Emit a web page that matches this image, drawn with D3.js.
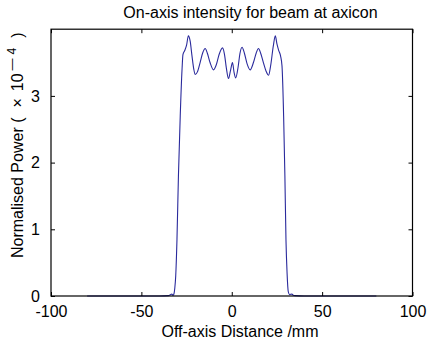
<!DOCTYPE html>
<html>
<head>
<meta charset="utf-8">
<script src="https://cdn.jsdelivr.net/npm/d3@7"></script>
<style>
  html, body { margin: 0; padding: 0; background: #fff; }
  svg { display: block; font-family: "Liberation Sans", Arial, Helvetica, sans-serif; }
</style>
</head>
<body>
<svg id="chart" width="428" height="345"></svg>
<script>
// Off-axis distance (mm)
const distance = [-80, -60, -40, -35, -34, -33.2, -32.5, -32, -31.5, -31, -30.3, -29.5, -28.5, -27.5, -27, -26, -25, -24, -23, -22, -21, -20.2, -19, -17.5, -16, -14.7, -13.5, -12, -10.1, -8.5, -7, -5.1, -4, -3, -1.8, -0.7, 0.4, 1.3, 2.2, 3.5, 4.5, 5.7, 7, 8.5, 10.2, 12, 13.5, 14.8, 16, 17.5, 19, 20.4, 21.5, 23, 24.1, 25, 26, 27, 27.8, 28.7, 29.4, 30.0, 30.6, 31.3, 32, 33.3, 34, 35, 40, 60, 80];
// Normalised power (x 10^-4)
const power = [0, 0, 0, 0.005, 0.02, 0.03, 0.01, 0.03, 0.12, 0.3, 0.85, 1.8, 2.7, 3.4, 3.62, 3.68, 3.76, 3.90, 3.82, 3.6, 3.40, 3.32, 3.36, 3.5, 3.65, 3.71, 3.64, 3.5, 3.39, 3.47, 3.62, 3.72, 3.62, 3.42, 3.26, 3.38, 3.50, 3.35, 3.27, 3.43, 3.63, 3.73, 3.64, 3.48, 3.39, 3.5, 3.64, 3.71, 3.64, 3.5, 3.37, 3.31, 3.45, 3.75, 3.90, 3.78, 3.68, 3.6, 3.45, 2.7, 1.8, 0.84, 0.35, 0.06, 0.02, 0.03, 0.01, 0.005, 0, 0, 0];

const xTicks = [-100, -50, 0, 50, 100];
const yTicks = [0, 1, 2, 3];

const titleText = "On-axis intensity for beam at axicon";
const xLabelText = "Off-axis Distance /mm";

const svg = d3.select("#chart");
const mLeft = 51, mRight = 412.5, mTop = 29.2, mBottom = 296;

const x = d3.scaleLinear().domain([-100, 100]).range([mLeft, mRight]);
const y = d3.scaleLinear().domain([0, 4]).range([mBottom, mTop]);

const data = distance.map((d, i) => ({x: d, y: power[i]}));

// data line
svg.append("path")
  .datum(data)
  .attr("fill", "none")
  .attr("stroke", "#2a2a9c")
  .attr("stroke-width", 1.1)
  .attr("d", d3.line().x(d => x(d.x)).y(d => y(d.y)).curve(d3.curveMonotoneX));

const tickFont = 16;
function styleAxis(g, showLabels) {
  g.select(".domain").remove();
  g.selectAll(".tick line").attr("stroke", "#000").attr("stroke-width", 1);
  g.selectAll(".tick text")
    .attr("fill", "#000")
    .style("font-size", tickFont + "px")
    .style("font-family", "'Liberation Sans', Arial, sans-serif");
  if (!showLabels) g.selectAll(".tick text").remove();
}

svg.append("g").attr("transform", `translate(0,${mBottom})`)
  .call(d3.axisBottom(x).tickValues(xTicks).tickFormat(d3.format("d")).tickSize(-4).tickPadding(10))
  .call(g => styleAxis(g, true));
svg.append("g").attr("transform", `translate(0,${mTop})`)
  .call(d3.axisTop(x).tickValues(xTicks).tickSize(-4))
  .call(g => styleAxis(g, false));
svg.append("g").attr("transform", `translate(${mLeft},0)`)
  .call(d3.axisLeft(y).tickValues(yTicks).tickFormat(d3.format("d")).tickSize(-4).tickPadding(11))
  .call(g => styleAxis(g, true));
svg.append("g").attr("transform", `translate(${mRight},0)`)
  .call(d3.axisRight(y).tickValues(yTicks).tickSize(-4))
  .call(g => styleAxis(g, false));

// tick labels: use hyphen minus like reference
svg.selectAll(".tick text").text(function() { return this.textContent.replace("\u2212", "-"); });

// box
svg.append("rect")
  .attr("x", mLeft).attr("y", mTop)
  .attr("width", mRight - mLeft).attr("height", mBottom - mTop)
  .attr("fill", "none").attr("stroke", "#000").attr("stroke-width", 1.2);

// title
svg.append("text")
  .attr("x", 250.5).attr("y", 18)
  .attr("text-anchor", "middle")
  .style("font-size", "16px")
  .text(titleText);

// x label
svg.append("text")
  .attr("x", 240).attr("y", 337)
  .attr("text-anchor", "middle")
  .style("font-size", "16px")
  .text(xLabelText);

// y label
const yl = svg.append("text")
  .attr("transform", "translate(23,258) rotate(-90)")
  .attr("text-anchor", "start")
  .style("font-size", "16px");
yl.append("tspan").text("Normalised Power (");
yl.append("tspan").attr("dx", 10).text("\u00d7");
yl.append("tspan").attr("dx", 7).text("10");
yl.append("tspan").attr("dx", 3).attr("dy", -7).style("font-size", "12px").text("\u2014");
yl.append("tspan").attr("dx", 4).style("font-size", "12px").text("4");
yl.append("tspan").attr("dx", 10).attr("dy", 7).text(")");
</script>
</body>
</html>
